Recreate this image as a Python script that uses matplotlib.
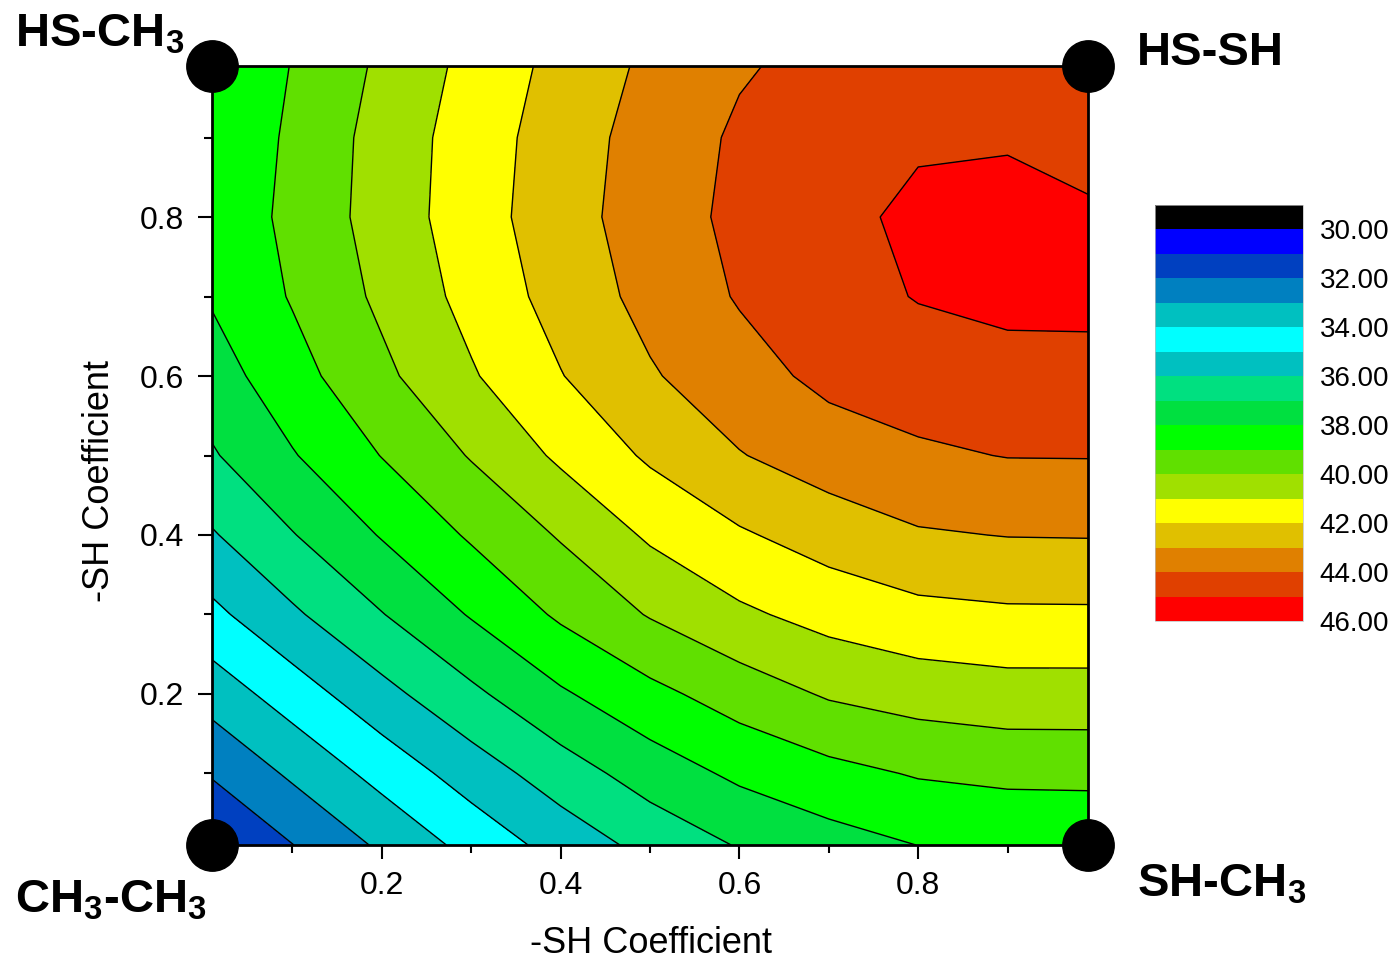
import numpy as np
import matplotlib.pyplot as plt
from matplotlib.colors import ListedColormap, BoundaryNorm

plt.rcParams['font.family'] = 'Liberation Sans'
plt.rcParams['mathtext.default'] = 'regular'

# grid of coefficients (columns: -SH coefficient on x, rows: on y)
sh_x = [0.01, 0.1, 0.2, 0.3, 0.4, 0.5, 0.6, 0.7, 0.8, 0.9, 0.99]
sh_y = [0.01, 0.1, 0.2, 0.3, 0.4, 0.5, 0.6, 0.7, 0.8, 0.9, 0.99]

# values, one row per sh_y
z_rows = [
    [30.95, 31.98, 33.17, 34.32, 35.39, 36.31, 37.07, 37.60, 38.01, 38.08, 38.12],
    [32.09, 33.17, 34.34, 35.47, 36.51, 37.46, 38.20, 38.70, 39.08, 39.26, 39.28],
    [33.43, 34.49, 35.69, 36.79, 37.87, 38.73, 39.46, 40.11, 40.43, 40.59, 40.59],
    [34.75, 35.84, 36.96, 38.08, 39.16, 40.07, 40.82, 41.35, 41.71, 41.84, 41.85],
    [35.91, 36.95, 38.07, 39.13, 40.09, 41.15, 41.88, 42.44, 42.90, 43.03, 43.05],
    [36.90, 37.93, 39.03, 40.07, 41.18, 42.15, 42.95, 43.50, 43.85, 44.03, 44.04],
    [37.54, 38.63, 39.78, 40.90, 41.96, 42.90, 43.62, 44.25, 44.49, 44.66, 44.75],
    [38.10, 39.08, 40.20, 41.32, 42.38, 43.31, 44.08, 44.60, 45.05, 45.25, 45.20],
    [38.25, 39.26, 40.41, 41.53, 42.58, 43.49, 44.24, 44.77, 45.17, 45.28, 45.10],
    [38.17, 39.17, 40.38, 41.47, 42.50, 43.41, 44.15, 44.60, 44.90, 44.92, 44.75],
    [38.04, 39.04, 40.18, 41.29, 42.31, 43.20, 43.90, 44.30, 44.50, 44.55, 44.45],
]

levels = list(range(29, 47))
level_colors = ['#000000', '#0000FF', '#0040C0', '#0080C0', '#00C0C0', '#00FFFF',
                '#00C0C0', '#00E080', '#00E040', '#00FF00', '#60E000', '#A0E000',
                '#FFFF00', '#E0C000', '#E08000', '#E04000', '#FF0000']
cbar_ticks = [30, 32, 34, 36, 38, 40, 42, 44, 46]

corners_x = [0.01, 0.99, 0.01, 0.99]
corners_y = [0.01, 0.01, 0.99, 0.99]

z = np.array(z_rows)
cmap = ListedColormap(level_colors)
norm = BoundaryNorm(levels, cmap.N)

fig = plt.figure(figsize=(13.9, 9.59), dpi=100)
ax = fig.add_axes([212 / 1390, 1 - 845 / 959, 876 / 1390, 779 / 959])

cf = ax.contourf(sh_x, sh_y, z, levels=levels, cmap=cmap, norm=norm)
ax.contour(sh_x, sh_y, z, levels=levels[1:-1], colors='black', linewidths=1.0)

ax.set_xlim(0.01, 0.99)
ax.set_ylim(0.01, 0.99)
ax.set_xticks([0.2, 0.4, 0.6, 0.8])
ax.set_yticks([0.2, 0.4, 0.6, 0.8])
ax.set_xticks([0.1, 0.3, 0.5, 0.7, 0.9], minor=True)
ax.set_yticks([0.1, 0.3, 0.5, 0.7, 0.9], minor=True)
ax.tick_params(which='major', direction='out', length=10, width=1.5, labelsize=23)
ax.tick_params(which='minor', direction='out', length=6, width=1.5)
ax.tick_params(axis='x', pad=9)
ax.tick_params(axis='y', pad=10)
for s in ax.spines.values():
    s.set_linewidth(2)

ax.set_xlabel('-SH Coefficient', fontsize=26)
ax.set_ylabel('-SH Coefficient', fontsize=26)
ax.xaxis.label.set_va('center')
ax.yaxis.label.set_va('center')
ax.xaxis.set_label_coords(0.501, -0.126)
ax.yaxis.set_label_coords(-0.128, 0.467)

# black dots at the four corners
ax.plot(corners_x, corners_y, 'o', color='black', ms=37, clip_on=False, zorder=10)

lab = dict(fontsize=34, fontweight='bold', va='baseline', ha='left')
fig.text(15 / 1390, 1 - 47 / 959, 'HS-CH$_3$', **lab)
fig.text(1137 / 1390, 1 - 65 / 959, 'HS-SH', **lab)
fig.text(15 / 1390, 1 - 912 / 959, 'CH$_3$-CH$_3$', **lab)
fig.text(1137 / 1390, 1 - 897 / 959, 'SH-CH$_3$', **lab)

# colour scale
cax = fig.add_axes([1155 / 1390, 1 - 621 / 959, 148 / 1390, 416 / 959])
cb = fig.colorbar(cf, cax=cax, ticks=cbar_ticks, format='%.2f')
cb.minorticks_off()
cax.invert_yaxis()
cax.tick_params(which='both', length=0, labelsize=20, pad=12)
cb.outline.set_linewidth(0.5)
cb.outline.set_edgecolor('#BBBBBB')

fig.savefig('out.png', dpi=100)
